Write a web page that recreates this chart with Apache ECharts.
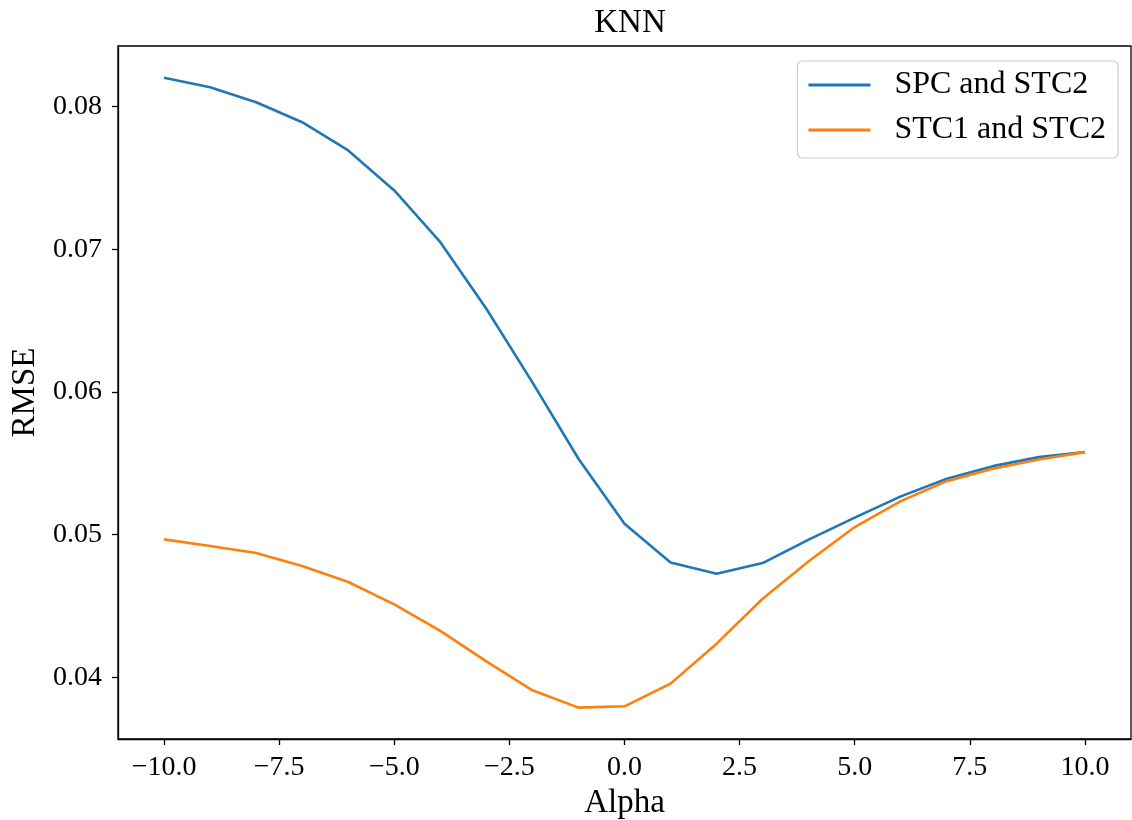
<!DOCTYPE html>
<html>
<head>
<meta charset="utf-8">
<script src="https://cdn.jsdelivr.net/npm/echarts@6/dist/echarts.min.js"></script>
<style>
html,body{margin:0;padding:0;background:#fff;}
#chart{width:1132px;height:820px;}
</style>
</head>
<body>
<div id="chart"></div>
<script>
const alpha = [-10,-9,-8,-7,-6,-5,-4,-3,-2,-1,0,1,2,3,4,5,6,7,8,9,10];
const spcStc2 = [0.08201,0.08135,0.08030,0.07890,0.07692,0.07412,0.07049,0.06583,0.06067,0.05532,0.05077,0.04804,0.04726,0.04801,0.04965,0.05119,0.05268,0.05392,0.05480,0.05543,0.05578];
const stc1Stc2 = [0.04967,0.04920,0.04871,0.04780,0.04668,0.04511,0.04326,0.04112,0.03909,0.03788,0.03797,0.03956,0.04236,0.04551,0.04813,0.05053,0.05235,0.05375,0.05462,0.05527,0.05578];
const xTicks = [-10,-7.5,-5,-2.5,0,2.5,5,7.5,10];
const yTicks = [0.04,0.05,0.06,0.07,0.08];
const seriesNames = ['SPC and STC2','STC1 and STC2'];
const titleText = 'KNN';
const xName = 'Alpha';
const yName = 'RMSE';

const FONT = '"Liberation Serif","DejaVu Serif",serif';
const chart = echarts.init(document.getElementById('chart'), null, {renderer:'canvas'});
const pairs = arr => alpha.map((a,i)=>[a,arr[i]]);
const fmtX = v => (v<0?'\u2212':'') + Math.abs(v).toFixed(1);

chart.setOption({
  animation:false,
  backgroundColor:'#fff',
  title:{text:titleText,left:625,top:2,textAlign:'center',
    textStyle:{fontFamily:FONT,fontSize:33,fontWeight:'normal',color:'#000'}},
  grid:{left:118,right:1,top:46,bottom:81,containLabel:false,outerBoundsMode:'none',
    show:true,borderColor:'#000',borderWidth:1.3,backgroundColor:'transparent'},
  legend:{
    data:seriesNames,orient:'vertical',right:14,top:61,
    icon:'rect',itemWidth:62,itemHeight:3,itemGap:13,
    padding:[8,12,12,11],
    backgroundColor:'rgba(255,255,255,0.8)',borderColor:'#cccccc',borderWidth:1.2,borderRadius:5,
    textStyle:{fontFamily:FONT,fontSize:32,color:'#000',lineHeight:30,padding:[0,0,0,19]}
  },
  xAxis:{
    type:'value',min:-11,max:11,
    name:xName,nameLocation:'middle',nameGap:46,
    nameTextStyle:{fontFamily:FONT,fontSize:33,color:'#000'},
    axisLine:{show:true,onZero:false,lineStyle:{color:'#000',width:1.3}},
    splitLine:{show:false},
    axisTick:{show:true,inside:false,customValues:xTicks,length:6,lineStyle:{color:'#000',width:1.3}},
    axisLabel:{customValues:xTicks,formatter:fmtX,margin:15,fontFamily:FONT,fontSize:28,color:'#000'}
  },
  yAxis:{
    type:'value',min:0.03568,max:0.08424,
    name:yName,nameLocation:'middle',nameGap:74,nameRotate:90,
    nameTextStyle:{fontFamily:FONT,fontSize:33,color:'#000'},
    axisLine:{show:true,onZero:false,lineStyle:{color:'#000',width:1.3}},
    splitLine:{show:false},
    axisTick:{show:true,inside:false,customValues:yTicks,length:6,lineStyle:{color:'#000',width:1.3}},
    axisLabel:{customValues:yTicks,formatter:v=>v.toFixed(2),margin:16,fontFamily:FONT,fontSize:28,color:'#000'}
  },
  series:[
    {name:seriesNames[0],type:'line',data:pairs(spcStc2),showSymbol:false,symbol:'none',
     lineStyle:{color:'#1f77b4',width:2.6},itemStyle:{color:'#1f77b4'}},
    {name:seriesNames[1],type:'line',data:pairs(stc1Stc2),showSymbol:false,symbol:'none',
     lineStyle:{color:'#ff7f0e',width:2.6},itemStyle:{color:'#ff7f0e'}}
  ]
});
</script>
</body>
</html>
